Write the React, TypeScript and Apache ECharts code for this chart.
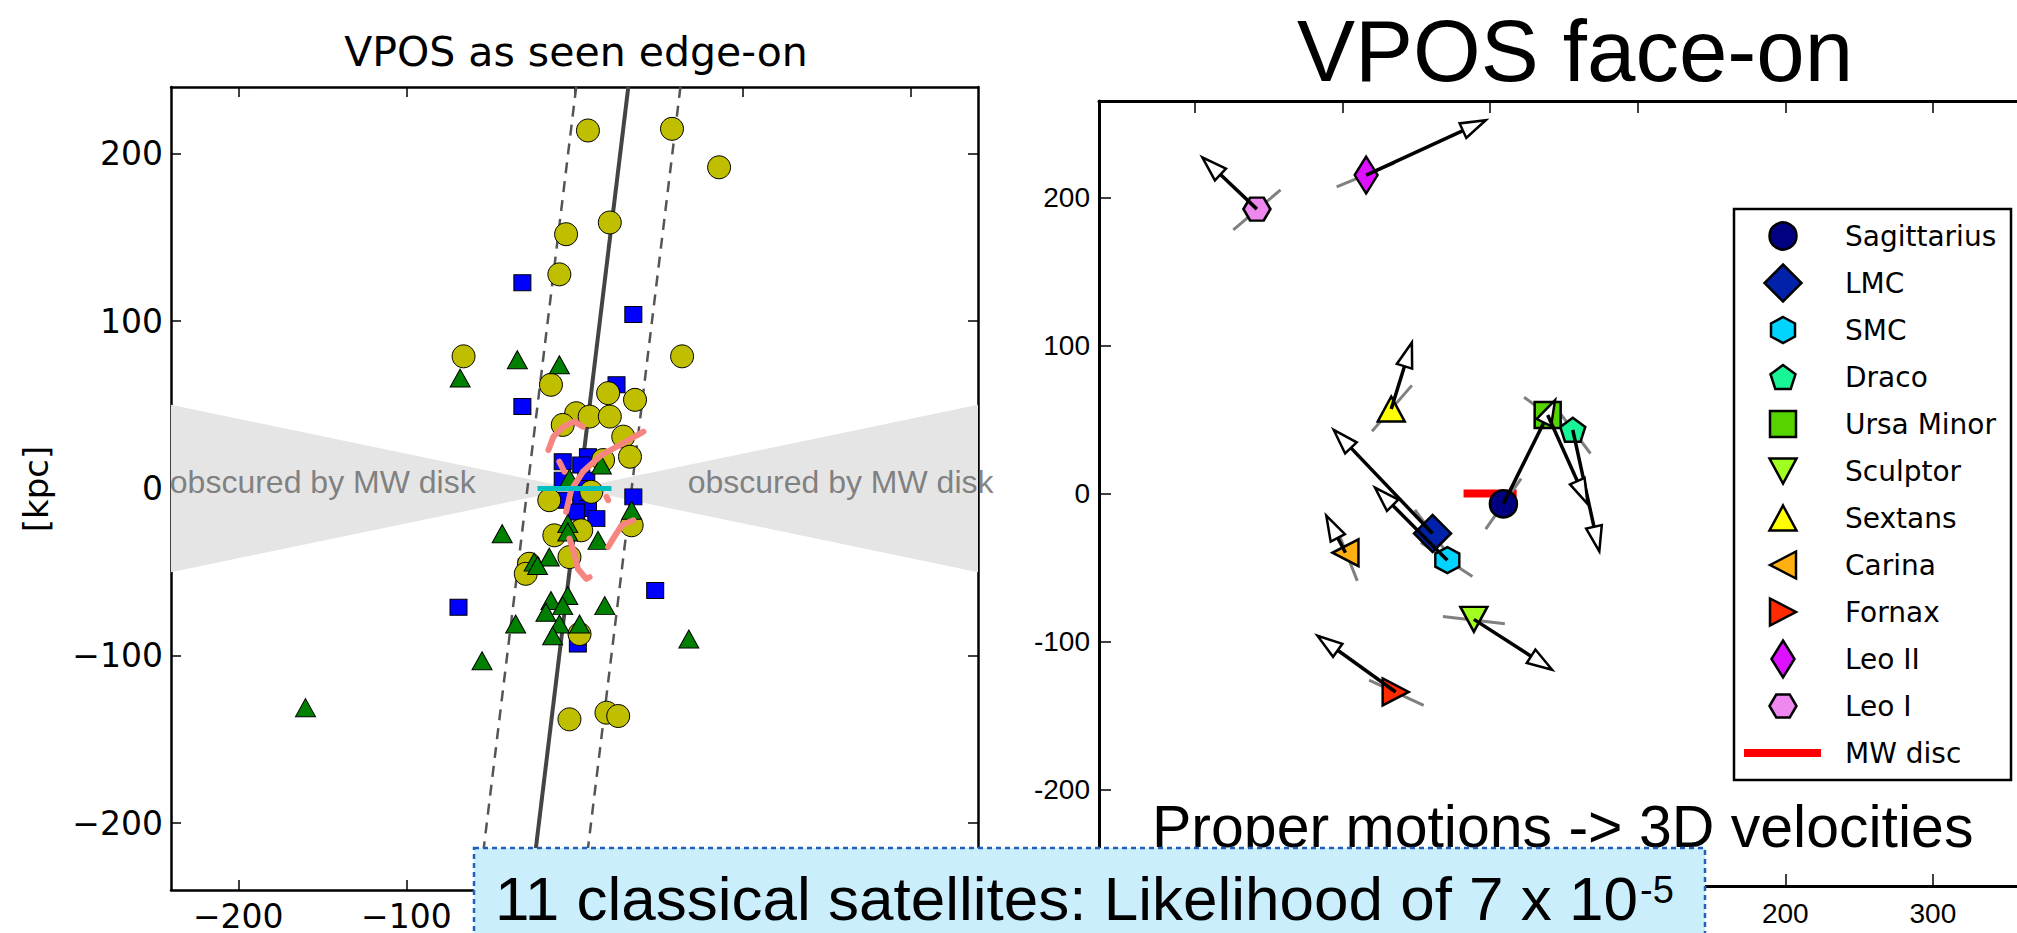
import React, { useEffect, useRef } from 'react';
import * as echarts from 'echarts';

// ---------------- Left panel: VPOS as seen edge-on ----------------
const yellowCircles = [
  [8, 214], [58, 215], [86, 192], [21, 159], [-5, 152], [-9, 128], [-66, 79], [64, 79],
  [-14, 62], [20, 57], [36, 53], [1, 45], [9, 43], [21, 43], [-7, 38], [29, 31], [33, 19],
  [17, 17], [10, -2], [-15, -7], [34, -22], [4, -25], [-12, -28], [-3, -41], [-27, -45],
  [-29, -51], [3, -87], [-3, -138], [19, -134], [26, -136],
];
const blueSquares = [
  [-31, 123], [35, 104], [25, 62], [-31, 49], [-7, 16], [8, 19], [4, 14], [-7, 5], [7, 5],
  [3, 0], [-8, -7], [4, -5], [35, -5], [8, -12], [1, -14], [13, -18], [48, -61], [-69, -71], [2, -93],
];
const greenTriangles = [
  [-34, 77], [-9, 74], [-68, 66], [16, 14], [-3, 6], [34, -13], [-4, -21], [-4, -26], [-43, -27],
  [14, -31], [-15, -41], [-24, -44], [-22, -46], [-4, -64], [-14, -67], [18, -70], [-7, -70],
  [-17, -74], [-35, -81], [-9, -81], [3, -81], [-13, -88], [68, -90], [-55, -103], [-160, -131],
];
const pinkTracks = [
  [[-15.5, 23], [-12.5, 31], [-6.5, 37], [0, 40], [5, 37]],
  [[41, 34], [27, 26], [16, 20], [5, 10], [-2, -1], [-5, -14]],
  [[-9, 16], [-6, 10]],
  [[19, -5], [20, -7]],
  [[35, -19], [28, -22], [23, -30], [20, -35]],
  [[-3, -30], [0, -39], [2, -48], [7, -54], [9, -53]],
];
const mwDiskEdgeOn = [[-22, 0], [22, 0]];
const planeLine = [[-26, -240], [32, 240]];
const planeLowerBound = [[-57, -240], [1, 240]];
const planeUpperBound = [[5, -240], [63, 240]];
const obscuredWedges = [
  [[-240, 50], [0, 0], [-240, -50]],
  [[240, 50], [0, 0], [240, -50]],
];
const obscuredLabelPos = [[-241, 4], [67, 4]];
const obscuredText = 'obscured by MW disk';
const edgeTicks = [-200, -100, 0, 100, 200];

// ---------------- Right panel: VPOS face-on ----------------
const satNames = ['Sagittarius', 'LMC', 'SMC', 'Draco', 'Ursa Minor', 'Sculptor', 'Sextans', 'Carina', 'Fornax', 'Leo II', 'Leo I'];
const satColors = ['#000080', '#0022aa', '#00d4ff', '#17f597', '#55d400', '#a0ff20', '#ffff00', '#ffb010', '#ff2a00', '#dd11ff', '#ee88ee'];
const satSymbols = ['circle', 'diamond', 'hexV', 'pentagon', 'square', 'triDown', 'triUp', 'triLeft', 'triRight', 'diamond', 'hexH'];
const satSizes = [[27, 27], [37, 37], [24, 26], [25, 24], [26, 26], [27, 25], [27, 25], [26, 27], [26, 27], [23, 37], [27, 23]];
const satX = [9, -39, -29, 56, 39, -11, -67, -98, -64, -84, -158];
const satY = [-7, -27, -45, 43, 53, -85, 57, -40, -134, 215, 192];
const velTipX = [44, -106, -78, 74, 66, 42, -53, -111, -117, -3, -195];
const velTipY = [63, 43, 4, -39, -7, -119, 102, -15, -96, 252, 227];
const grayX1 = [-3, -51, -47, 43, 23, -32, -80, -105, -82, -104, -174];
const grayY1 = [-24, -11, -33, 60, 65, -83, 42, -21, -126, 207, 178];
const grayX2 = [21, -27, -12, 68, 56, 10, -53, -90, -45, -65, -142];
const grayY2 = [10, -43, -56, 27, 41, -88, 73, -59, -143, 223, 205];
const mwDiscFaceOn = [[-18, 0], [18, 0]];
const faceXTicks = [-200, -100, 0, 100, 200, 300];
const faceYTicks = [-200, -100, 0, 100, 200];

const SHAPES: Record<string, number[][]> = {
  diamond: [[50, 0], [100, 50], [50, 100], [0, 50]],
  hexV: [[50, 0], [100, 25], [100, 75], [50, 100], [0, 75], [0, 25]],
  hexH: [[0, 50], [25, 0], [75, 0], [100, 50], [75, 100], [25, 100]],
  pentagon: [[50, 0], [100, 38.2], [80.9, 100], [19.1, 100], [0, 38.2]],
  square: [[0, 0], [100, 0], [100, 100], [0, 100]],
  triUp: [[50, 0], [100, 100], [0, 100]],
  triDown: [[0, 0], [100, 0], [50, 100]],
  triLeft: [[0, 50], [100, 0], [100, 100]],
  triRight: [[0, 0], [100, 50], [0, 100]],
};
const toPath = (pts: number[][]) => 'path://M' + pts.map((p) => p[0] + ' ' + p[1]).join(' L') + ' Z';
const symbolOf = (s: string) => (s === 'circle' ? 'circle' : toPath(SHAPES[s]));

const minusFmt = (v: number) => (v < 0 ? '\u2212' + Math.abs(v) : String(v));

function buildOption() {
  const axisLineStyle = { color: '#000', width: 2.5 };
  const tickStyle = { color: '#000', width: 1.5 };
  const leftLabel = { color: '#000', fontSize: 33, fontFamily: 'DejaVu Sans' };
  const rightLabel = { color: '#000', fontSize: 28, fontFamily: 'Liberation Sans' };

  const xAxis: any[] = [
    {
      gridIndex: 0, type: 'value', min: -240, max: 240, position: 'bottom',
      axisLine: { onZero: false, lineStyle: axisLineStyle },
      axisTick: { inside: true, length: 10, customValues: edgeTicks, lineStyle: tickStyle },
      axisLabel: { ...leftLabel, customValues: edgeTicks, formatter: minusFmt, margin: 10 },
      splitLine: { show: false },
    },
    {
      gridIndex: 0, type: 'value', min: -240, max: 240, position: 'top',
      axisLine: { onZero: false, lineStyle: axisLineStyle },
      axisTick: { inside: true, length: 10, customValues: edgeTicks, lineStyle: tickStyle },
      axisLabel: { show: false }, splitLine: { show: false },
    },
    {
      gridIndex: 1, type: 'value', min: -265, max: 357, position: 'bottom',
      axisLine: { onZero: false, lineStyle: { color: '#000', width: 3 } },
      axisTick: { inside: true, length: 12, customValues: faceXTicks, lineStyle: tickStyle },
      axisLabel: { ...rightLabel, customValues: faceXTicks, margin: 13 },
      splitLine: { show: false },
    },
    {
      gridIndex: 1, type: 'value', min: -265, max: 357, position: 'top',
      axisLine: { onZero: false, lineStyle: { color: '#000', width: 3 } },
      axisTick: { inside: true, length: 12, customValues: faceXTicks, lineStyle: tickStyle },
      axisLabel: { show: false }, splitLine: { show: false },
    },
  ];
  const yAxis: any[] = [
    {
      gridIndex: 0, type: 'value', min: -240, max: 240, position: 'left',
      axisLine: { onZero: false, lineStyle: axisLineStyle },
      axisTick: { inside: true, length: 10, customValues: edgeTicks, lineStyle: tickStyle },
      axisLabel: { ...leftLabel, customValues: edgeTicks, formatter: minusFmt, margin: 8 },
      splitLine: { show: false },
    },
    {
      gridIndex: 0, type: 'value', min: -240, max: 240, position: 'right',
      axisLine: { onZero: false, lineStyle: axisLineStyle },
      axisTick: { inside: true, length: 10, customValues: edgeTicks, lineStyle: tickStyle },
      axisLabel: { show: false }, splitLine: { show: false },
    },
    {
      gridIndex: 1, type: 'value', min: -265, max: 265, position: 'left',
      axisLine: { onZero: false, lineStyle: { color: '#000', width: 3 } },
      axisTick: { inside: true, length: 12, customValues: faceYTicks, lineStyle: tickStyle },
      axisLabel: { ...rightLabel, customValues: faceYTicks, margin: 9 },
      splitLine: { show: false },
    },
    {
      gridIndex: 1, type: 'value', min: -265, max: 265, position: 'right', show: false,
    },
  ];

  const L = { xAxisIndex: 0, yAxisIndex: 0 };
  const R = { xAxisIndex: 2, yAxisIndex: 2 };

  const series: any[] = [
    {
      type: 'custom', ...L, z: 1, silent: true,
      data: obscuredWedges.map((_, i) => [i]),
      renderItem: (params: any, api: any) => ({
        type: 'polygon',
        shape: { points: obscuredWedges[params.dataIndex].map((p) => api.coord(p)) },
        style: { fill: '#e5e5e5' },
      }),
    },
    {
      type: 'scatter', ...L, z: 1, silent: true, clip: false, data: obscuredLabelPos, symbolSize: 1,
      itemStyle: { color: 'rgba(0,0,0,0)' },
      label: { show: true, position: 'right', distance: 0, formatter: obscuredText, color: '#666', fontSize: 32, fontFamily: 'Liberation Sans' },
    },
    { type: 'line', ...L, z: 2, data: planeLowerBound, symbol: 'none', lineStyle: { color: '#555', width: 2.5, type: [11, 8] } },
    { type: 'line', ...L, z: 2, data: planeUpperBound, symbol: 'none', lineStyle: { color: '#555', width: 2.5, type: [11, 8] } },
    { type: 'line', ...L, z: 2, data: planeLine, symbol: 'none', lineStyle: { color: '#444', width: 4 } },
    {
      type: 'scatter', ...L, z: 3, data: blueSquares, symbol: 'rect', symbolSize: [17, 16],
      itemStyle: { color: '#0000ff', borderColor: '#000', borderWidth: 1, opacity: 1 },
    },
    {
      type: 'scatter', ...L, z: 4, data: yellowCircles, symbol: 'circle', symbolSize: 23,
      itemStyle: { color: '#bfbf00', borderColor: '#000', borderWidth: 1, opacity: 1 },
    },
    {
      type: 'scatter', ...L, z: 5, data: greenTriangles, symbol: toPath(SHAPES.triUp), symbolSize: [20, 18],
      itemStyle: { color: '#008000', borderColor: '#000', borderWidth: 1, opacity: 1 },
    },
    ...pinkTracks.map((t) => ({
      type: 'line', ...L, z: 6, data: t, symbol: 'none', silent: true,
      lineStyle: { color: '#f7857f', width: 6, cap: 'round', join: 'round' },
    })),
    { type: 'line', ...L, z: 7, data: mwDiskEdgeOn, symbol: 'none', lineStyle: { color: '#00bfbf', width: 5 } },

    // Right panel
    { type: 'line', ...R, z: 2, name: 'MW disc', data: mwDiscFaceOn, symbol: 'none', lineStyle: { color: '#ff0000', width: 8 } },
    {
      type: 'custom', ...R, z: 3, silent: true,
      data: satX.map((_, i) => [grayX1[i], grayY1[i], grayX2[i], grayY2[i]]),
      renderItem: (params: any, api: any) => {
        const a = api.coord([api.value(0), api.value(1)]);
        const b = api.coord([api.value(2), api.value(3)]);
        return { type: 'line', shape: { x1: a[0], y1: a[1], x2: b[0], y2: b[1] }, style: { stroke: '#808080', lineWidth: 3 } };
      },
    },
    ...satNames.map((name, i) => ({
      type: 'scatter', ...R, z: 4, name, data: [[satX[i], satY[i]]],
      symbol: symbolOf(satSymbols[i]), symbolSize: satSizes[i],
      itemStyle: { color: satColors[i], borderColor: '#000', borderWidth: 2.5, opacity: 1 },
    })),
    {
      type: 'custom', ...R, z: 6, silent: true,
      data: satX.map((_, i) => [satX[i], satY[i], velTipX[i], velTipY[i]]),
      renderItem: (params: any, api: any) => {
        const p0 = api.coord([api.value(0), api.value(1)]);
        const p1 = api.coord([api.value(2), api.value(3)]);
        const dx = p1[0] - p0[0];
        const dy = p1[1] - p0[1];
        const len = Math.hypot(dx, dy) || 1;
        const ux = dx / len;
        const uy = dy / len;
        const hl = 25;
        const hw = 8;
        const base = [p1[0] - ux * hl, p1[1] - uy * hl];
        const l = [base[0] - uy * hw, base[1] + ux * hw];
        const r = [base[0] + uy * hw, base[1] - ux * hw];
        return {
          type: 'group',
          children: [
            { type: 'line', shape: { x1: p0[0], y1: p0[1], x2: base[0], y2: base[1] }, style: { stroke: '#000', lineWidth: 3.5 } },
            { type: 'polygon', shape: { points: [p1, l, r] }, style: { fill: '#fff', stroke: '#000', lineWidth: 2.5 } },
          ],
        };
      },
    },
  ];

  // Legend (drawn as graphic)
  const lgX = 1734, lgY = 209, lgW = 277, lgH = 571;
  const rowY0 = 236, rowGap = 47, mkX = 1783, txX = 1845;
  const legendEls: any[] = [
    { type: 'rect', shape: { x: lgX, y: lgY, width: lgW, height: lgH }, style: { fill: '#fff', stroke: '#000', lineWidth: 2.5 }, z: 30 },
  ];
  satNames.forEach((name, i) => {
    const cy = rowY0 + rowGap * i;
    const [w, h] = satSizes[i];
    const sym = satSymbols[i];
    const st = { fill: satColors[i], stroke: '#000', lineWidth: 2.5 };
    if (sym === 'circle') {
      legendEls.push({ type: 'circle', shape: { cx: mkX, cy, r: w / 2 }, style: st, z: 31 });
    } else {
      const pts = SHAPES[sym].map((p) => [mkX + (p[0] / 100 - 0.5) * w, cy + (p[1] / 100 - 0.5) * h]);
      legendEls.push({ type: 'polygon', shape: { points: pts }, style: st, z: 31 });
    }
    legendEls.push({
      type: 'text', x: txX, y: cy, z: 31,
      style: { text: name, font: '28px "DejaVu Sans"', fill: '#000', textAlign: 'left', textVerticalAlign: 'middle' },
    });
  });
  const mwY = rowY0 + rowGap * satNames.length;
  legendEls.push({ type: 'line', shape: { x1: 1744, y1: mwY, x2: 1821, y2: mwY }, style: { stroke: '#ff0000', lineWidth: 8 }, z: 31 });
  legendEls.push({
    type: 'text', x: txX, y: mwY, z: 31,
    style: { text: 'MW disc', font: '28px "DejaVu Sans"', fill: '#000', textAlign: 'left', textVerticalAlign: 'middle' },
  });

  const graphic: any[] = [
    {
      type: 'text', x: 576, y: 52, z: 10,
      style: { text: 'VPOS as seen edge-on', font: '41px "DejaVu Sans"', fill: '#000', textAlign: 'center', textVerticalAlign: 'middle' },
    },
    {
      type: 'text', x: 1575, y: 50, z: 10,
      style: { text: 'VPOS face-on', font: '87px "Liberation Sans"', fill: '#000', textAlign: 'center', textVerticalAlign: 'middle' },
    },
    {
      type: 'text', x: 36, y: 489, rotation: Math.PI / 2, z: 10,
      style: { text: '[kpc]', font: '34px "DejaVu Sans"', fill: '#000', textAlign: 'center', textVerticalAlign: 'middle' },
    },
    {
      type: 'text', x: 1152, y: 827, z: 10,
      style: { text: 'Proper motions -> 3D velocities', font: '59px "Liberation Sans"', fill: '#000', textAlign: 'left', textVerticalAlign: 'middle' },
    },
    ...legendEls,
    {
      type: 'rect', shape: { x: 474, y: 848, width: 1231, height: 120 }, z: 40,
      style: { fill: '#cbeefc', stroke: '#2160b8', lineWidth: 2.5, lineDash: [5, 4] },
    },
    {
      type: 'text', x: 1638, y: 898, z: 41,
      style: { text: '11 classical satellites: Likelihood of 7 x 10', font: '62px "Liberation Sans"', fill: '#000', textAlign: 'right', textVerticalAlign: 'middle' },
    },
    {
      type: 'text', x: 1640, y: 890, z: 41,
      style: { text: '-5', font: '38px "Liberation Sans"', fill: '#000', textAlign: 'left', textVerticalAlign: 'middle' },
    },
  ];

  return {
    animation: false,
    backgroundColor: '#fff',
    grid: [
      { left: 171, top: 87, width: 807, height: 806 },
      { left: 1099, top: 101, width: 918, height: 785 },
    ],
    xAxis,
    yAxis,
    series,
    graphic,
  };
}

export default function App() {
  const ref = useRef<HTMLDivElement>(null);
  useEffect(() => {
    if (!ref.current) return;
    const chart = echarts.init(ref.current, undefined, { renderer: 'svg' });
    chart.setOption(buildOption() as any);
    return () => chart.dispose();
  }, []);
  return (
    <div
      ref={ref}
      style={{ position: 'fixed', left: 0, top: 0, width: 2017, height: 933, background: '#fff' }}
    />
  );
}
